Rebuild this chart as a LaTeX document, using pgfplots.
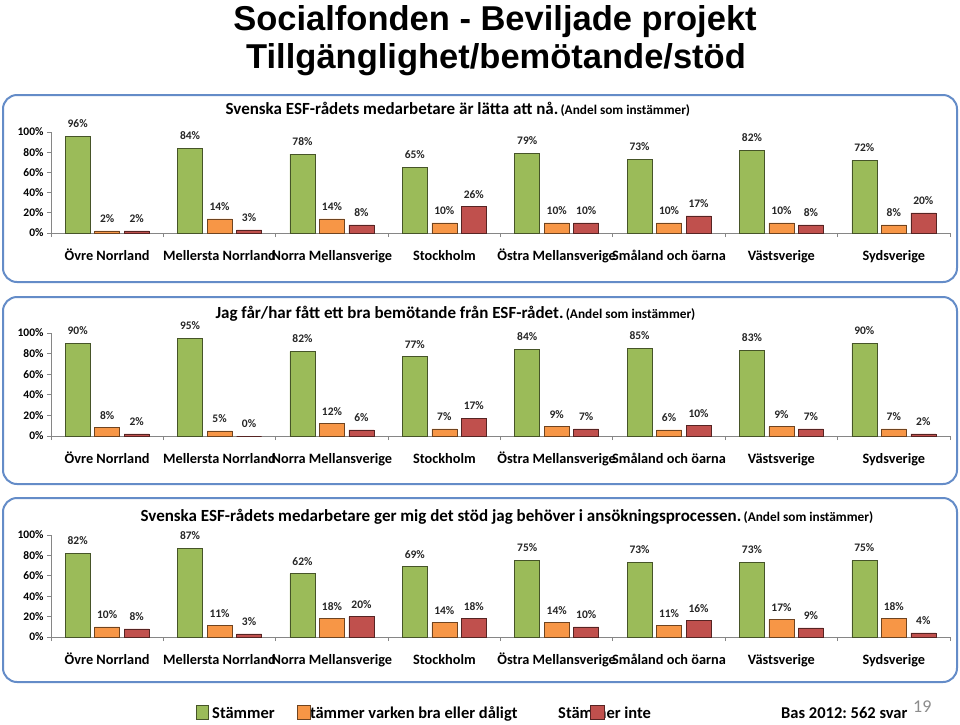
\documentclass[border=0pt]{standalone}
\usepackage{fontspec}
\setmainfont{Carlito}
\newfontfamily\titlefont{Liberation Sans}
\usepackage{pgfplots}
\pgfplotsset{compat=1.18}
\frenchspacing
\definecolor{cg}{RGB}{155,187,89}
\definecolor{co}{RGB}{247,150,70}
\definecolor{cr}{RGB}{192,80,77}
\definecolor{frame}{RGB}{100,140,200}
\definecolor{axgray}{RGB}{134,134,134}
\pgfplotsset{
  panel/.style={
    scale only axis, width=899pt,
    xmin=-0.5, xmax=7.5, ymin=0, ymax=100,
    ybar=4.5pt, bar width=25pt,
    axis x line*=bottom, axis y line*=left,
    axis line style={axgray, line width=0.8pt},
    tick style={axgray, line width=0.8pt},
    tick align=outside, major tick length=4pt,
    /pgf/number format/assume math mode=true,
    xtick={-0.5,0.5,...,7.5}, xticklabels={},
    extra x ticks={0,1,2,3,4,5,6,7},
    extra x tick labels={Övre Norrland,Mellersta Norrland,Norra Mellansverige,Stockholm,Östra Mellansverige,Småland och öarna,Västsverige,Sydsverige},
    extra x tick style={tick style={draw=none},
      tick label style={font=\bfseries\fontsize{14.3}{14.3}\selectfont, text=black, anchor=base, yshift=-23pt}},
    ytick={0,20,...,100},
    yticklabel={\pgfmathprintnumber{\tick}\%},
    yticklabel style={font=\bfseries\fontsize{11.5}{11.5}\selectfont, text=black},
    nodes near coords={\pgfmathprintnumber{\pgfplotspointmeta}\%},
    every node near coord/.append style={font=\bfseries\fontsize{11.5}{11.5}\selectfont, text=black!85, anchor=center, yshift=12.5pt},
    clip=false,
  },
  gbar/.style={fill=cg, draw=cg!45!black, line width=0.6pt},
  obar/.style={fill=co, draw=co!45!black, line width=0.6pt},
  rbar/.style={fill=cr, draw=cr!45!black, line width=0.6pt},
}
\begin{document}
\begin{tikzpicture}
\path[use as bounding box, fill=white] (0,0) rectangle (960pt,-724pt);
% titles
\node[font=\titlefont\bfseries\fontsize{34.5}{34.5}\selectfont, anchor=base] at (495pt,-30pt) {Socialfonden - Beviljade projekt};
\node[font=\titlefont\bfseries\fontsize{34.5}{34.5}\selectfont, anchor=base] at (496pt,-68pt) {Tillgänglighet/bemötande/stöd};
% panels
\draw[frame, line width=2pt, rounded corners=14pt, fill=white] (3pt,-95pt) rectangle (957pt,-282pt);
\draw[frame, line width=2pt, rounded corners=14pt, fill=white] (3pt,-297pt) rectangle (957pt,-484pt);
\draw[frame, line width=2pt, rounded corners=14pt, fill=white] (3pt,-498pt) rectangle (957pt,-682pt);
\node[anchor=base west, font=\bfseries] at (222pt,-114pt) {{\fontsize{17}{17}\selectfont Svenska ESF-rådets medarbetare är lätta att nå.} {\fontsize{13.3}{13.3}\selectfont (Andel som instämmer)}};
\node[anchor=base west, font=\bfseries] at (212pt,-318pt) {{\fontsize{17}{17}\selectfont Jag får/har fått ett bra bemötande från ESF-rådet.} {\fontsize{13.3}{13.3}\selectfont (Andel som instämmer)}};
\node[anchor=base west, font=\bfseries] at (137pt,-521pt) {{\fontsize{17}{17}\selectfont Svenska ESF-rådets medarbetare ger mig det stöd jag behöver i ansökningsprocessen.} {\fontsize{13.3}{13.3}\selectfont (Andel som instämmer)}};

\begin{axis}[panel, at={(51pt,-233pt)}, anchor=south west, height=101pt]
\addplot[gbar] coordinates {(0,96) (1,84) (2,78) (3,65) (4,79) (5,73) (6,82) (7,72)};
\addplot[obar] coordinates {(0,2) (1,14) (2,14) (3,10) (4,10) (5,10) (6,10) (7,8)};
\addplot[rbar] coordinates {(0,2) (1,3) (2,8) (3,26) (4,10) (5,17) (6,8) (7,20)};
\end{axis}

\begin{axis}[panel, at={(51pt,-436pt)}, anchor=south west, height=103pt]
\addplot[gbar] coordinates {(0,90) (1,95) (2,82) (3,77) (4,84) (5,85) (6,83) (7,90)};
\addplot[obar] coordinates {(0,8) (1,5) (2,12) (3,7) (4,9) (5,6) (6,9) (7,7)};
\addplot[rbar] coordinates {(0,2) (1,0) (2,6) (3,17) (4,7) (5,10) (6,7) (7,2)};
\end{axis}

\begin{axis}[panel, at={(51pt,-637pt)}, anchor=south west, height=102pt]
\addplot[gbar] coordinates {(0,82) (1,87) (2,62) (3,69) (4,75) (5,73) (6,73) (7,75)};
\addplot[obar] coordinates {(0,10) (1,11) (2,18) (3,14) (4,14) (5,11) (6,17) (7,18)};
\addplot[rbar] coordinates {(0,8) (1,3) (2,20) (3,18) (4,10) (5,16) (6,9) (7,4)};
\end{axis}

% legend
\begin{scope}[font=\bfseries\fontsize{16.5}{16.5}\selectfont]
\node[anchor=base west, inner sep=0pt] at (212pt,-718pt) {Stämmer};
\node[anchor=base west, inner sep=0pt] at (302pt,-718pt) {Stämmer varken bra eller dåligt};
\node[anchor=base west, inner sep=0pt] at (558pt,-718pt) {Stämmer inte};
\node[anchor=base west, inner sep=0pt] at (781pt,-718pt) {Bas 2012: 562 svar};
\end{scope}
\node[anchor=base west, inner sep=0pt, text=black!45, font=\fontsize{18}{18}\selectfont] at (913pt,-712pt) {19};
\filldraw[fill=cg, draw=cg!45!black, line width=0.6pt] (196pt,-705pt) rectangle (208pt,-719pt);
\filldraw[fill=co, draw=co!45!black, line width=0.6pt] (297pt,-705pt) rectangle (310pt,-719pt);
\filldraw[fill=cr, draw=cr!45!black, line width=0.6pt] (590pt,-705pt) rectangle (604pt,-719pt);
\end{tikzpicture}
\end{document}
